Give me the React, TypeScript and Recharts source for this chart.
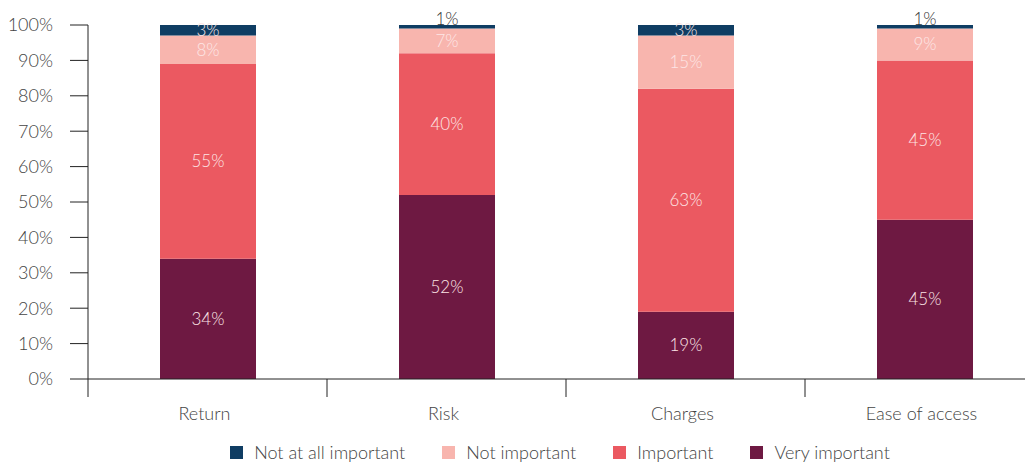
import { BarChart, Bar, XAxis, YAxis, Legend, LabelList } from 'recharts';

const categories = ['Return', 'Risk', 'Charges', 'Ease of access'];
const veryImportant = [34, 52, 19, 45];
const important = [55, 40, 63, 45];
const notImportant = [8, 7, 15, 9];
const notAtAllImportant = [3, 1, 3, 1];
const yTicks = [0, 10, 20, 30, 40, 50, 60, 70, 80, 90, 100];

const series = [
  { key: 'very', name: 'Very important', color: '#6e1942', values: veryImportant },
  { key: 'imp', name: 'Important', color: '#eb5961', values: important },
  { key: 'not', name: 'Not important', color: '#f8b5ae', values: notImportant },
  { key: 'notAtAll', name: 'Not at all important', color: '#0f3d63', values: notAtAllImportant },
];

const data = categories.map((name, i) => {
  const row: Record<string, string | number> = { name };
  series.forEach((s) => {
    row[s.key] = s.values[i];
  });
  return row;
});

const FONT = 'Lato, "Open Sans", sans-serif';
const TEXT = '#444';
const CHART_W = 1036;
const CHART_H = 455;
const Y_W = 80;
const HALF_BAND = (CHART_W - Y_W) / categories.length / 2;

const SegmentLabel = (props: any) => {
  const { x, y, width, height, value } = props;
  if (value == null) return null;
  const cx = x + width / 2;
  if (value <= 1) {
    return (
      <text x={cx} y={y} textAnchor="middle" fontSize={17} fontWeight={300} fill="#333" fontFamily={FONT}>
        {`${value}%`}
      </text>
    );
  }
  return (
    <text
      x={cx}
      y={y + height / 2}
      dy={6}
      textAnchor="middle"
      fontSize={17}
      fontWeight={300}
      fill="#fde6e6"
      fontFamily={FONT}
    >
      {`${value}%`}
    </text>
  );
};

const CategoryTick = (props: any) => {
  const { x, y, payload, index } = props;
  return (
    <g>
      <line x1={x - HALF_BAND} y1={y - 8} x2={x - HALF_BAND} y2={y + 10} stroke="#222" />
      {index === categories.length - 1 && (
        <line x1={x + HALF_BAND} y1={y - 8} x2={x + HALF_BAND} y2={y + 10} stroke="#222" />
      )}
      <text x={x - 3} y={y + 33} textAnchor="middle" fontSize={18} fontWeight={300} fill={TEXT} fontFamily={FONT}>
        {payload.value}
      </text>
    </g>
  );
};

const LegendContent = () => (
  <div
    style={{
      display: 'flex',
      justifyContent: 'center',
      gap: 37,
      fontFamily: FONT,
      fontSize: 18,
      fontWeight: 300,
      color: TEXT,
      paddingLeft: 68,
      paddingTop: 2,
    }}
  >
    {[...series].reverse().map((s) => (
      <div key={s.key} style={{ display: 'flex', alignItems: 'center' }}>
        <span style={{ width: 13, height: 13, background: s.color, marginRight: 11, display: 'inline-block' }} />
        <span>{s.name}</span>
      </div>
    ))}
  </div>
);

export default function App() {
  return (
    <div style={{ width: 1025, height: CHART_H, overflow: 'hidden' }}>
      <BarChart
        width={CHART_W}
        height={CHART_H}
        data={data}
        margin={{ top: 17, right: 0, left: 0, bottom: 0 }}
        barSize={96}
      >
        <XAxis
          dataKey="name"
          tick={<CategoryTick />}
          tickLine={false}
          axisLine={{ stroke: '#222' }}
          height={60}
          interval={0}
        />
        <YAxis
          domain={[0, 100]}
          ticks={yTicks}
          tickFormatter={(v) => `${v}%`}
          width={Y_W}
          tickSize={18}
          tickMargin={17}
          tickLine={{ stroke: '#222' }}
          axisLine={{ stroke: '#222' }}
          tick={{ fontSize: 18, fontWeight: 300, fill: TEXT, fontFamily: FONT }}
          interval={0}
        />
        <Legend verticalAlign="bottom" height={24} content={<LegendContent />} />
        {series.map((s) => (
          <Bar key={s.key} dataKey={s.key} name={s.name} stackId="a" fill={s.color} isAnimationActive={false}>
            <LabelList dataKey={s.key} content={<SegmentLabel />} />
          </Bar>
        ))}
      </BarChart>
    </div>
  );
}
